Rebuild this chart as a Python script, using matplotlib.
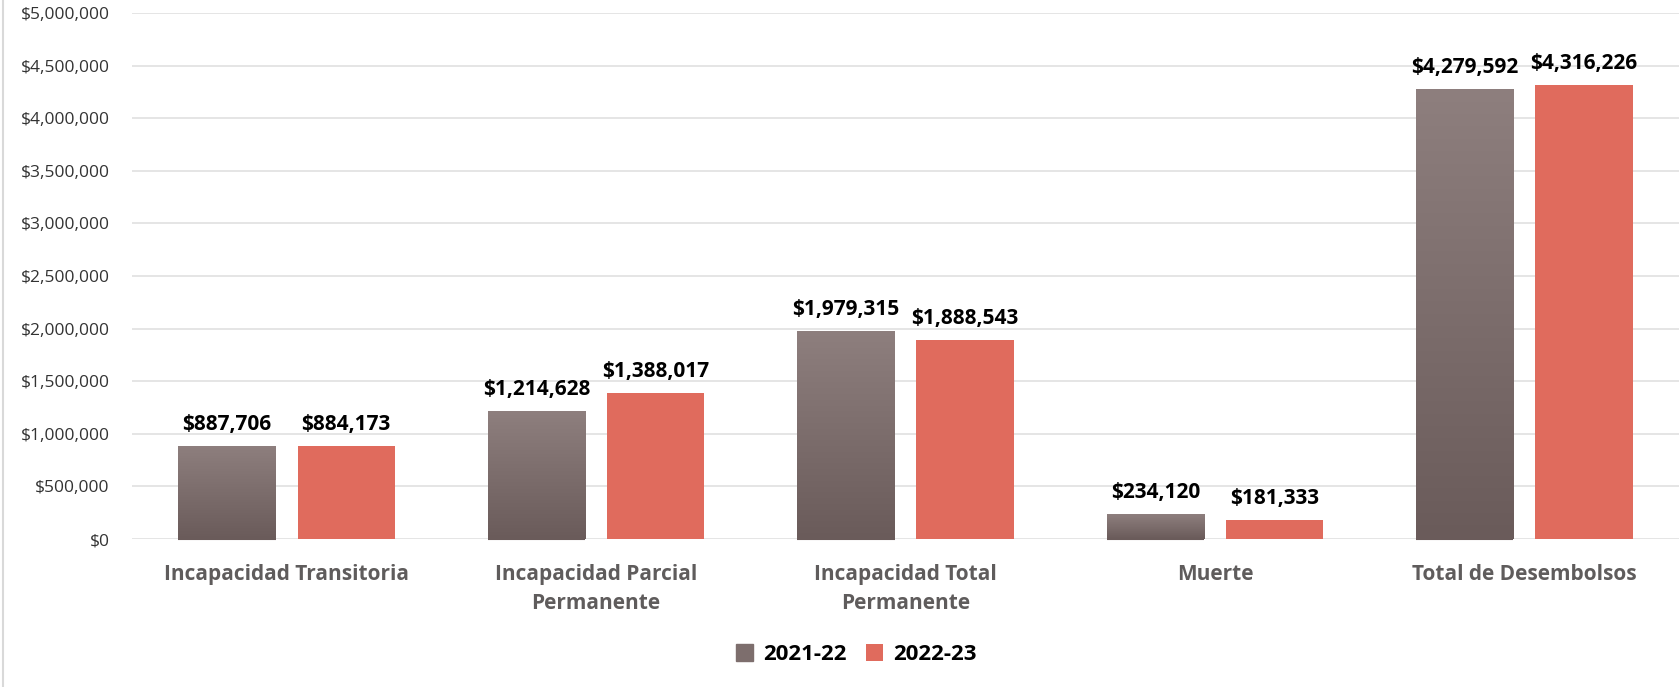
import numpy as np
import matplotlib.pyplot as plt
from matplotlib.colors import LinearSegmentedColormap
from matplotlib.ticker import FuncFormatter

# Datos
categorias = ['Incapacidad Transitoria', 'Incapacidad Parcial\nPermanente',
              'Incapacidad Total\nPermanente', 'Muerte', 'Total de Desembolsos']
serie_2021 = [887706, 1214628, 1979315, 234120, 4279592]
serie_2022 = [884173, 1388017, 1888543, 181333, 4316226]
etiquetas = ['2021-22', '2022-23']

plt.rcParams['font.family'] = ['Open Sans', 'DejaVu Sans']

fig = plt.figure(figsize=(16.79, 6.87), dpi=100)
ax = fig.add_axes([0.0786, 0.2154, 0.9214, 0.7656])

x = np.arange(len(categorias))
ancho = 0.315
desp = ancho / 2 + 0.035

gris_arriba = '#8e7f7e'
gris_abajo = '#6a5b5a'
rojo = '#e06b5d'

b1 = ax.bar(x - desp, serie_2021, ancho, color=gris_arriba, label=etiquetas[0], zorder=2)
b2 = ax.bar(x + desp, serie_2022, ancho, color=rojo, label=etiquetas[1], zorder=2)

# degradado en las barras grises
cmap = LinearSegmentedColormap.from_list('g', [gris_abajo, gris_arriba])
grad = np.linspace(0, 1, 256).reshape(-1, 1)
for r in b1:
    x0, y0 = r.get_x(), r.get_y()
    w, h = r.get_width(), r.get_height()
    im = ax.imshow(grad, cmap=cmap, origin='lower', aspect='auto',
                   extent=[x0, x0 + w, y0, y0 + h], zorder=3)
    im.set_clip_path(r)
    ax.plot([x0, x0 + w], [0, 0], color='#6a5b5a', lw=1.5, zorder=4,
            solid_capstyle='butt', clip_on=False)

for barras, vals in ((b1, serie_2021), (b2, serie_2022)):
    for r, v in zip(barras, vals):
        ax.annotate(f'${v:,.0f}', (r.get_x() + r.get_width() / 2, v),
                    xytext=(0, 8), textcoords='offset points', ha='center', va='bottom',
                    fontsize=15, fontweight='bold', color='black', zorder=5)

ax.set_xlim(-0.5, len(categorias) - 0.5)
ax.set_ylim(0, 5000000)
ax.set_yticks(np.arange(0, 5000001, 500000))
ax.yaxis.set_major_formatter(FuncFormatter(lambda v, p: f'${v:,.0f}'))
ax.set_xticks(x)
ax.set_xticklabels(categorias, fontsize=15, fontweight='bold', color='#5f5c5c',
                   linespacing=1.5)
ax.tick_params(axis='y', length=0, labelsize=12.5, labelcolor='#333333', pad=16)
ax.tick_params(axis='x', length=0, pad=18)
ax.grid(axis='y', color='#e3e3e3', lw=1.3, zorder=0)
ax.set_axisbelow(True)
for s in ax.spines.values():
    s.set_visible(False)

leg = fig.legend(handles=[b1, b2], labels=etiquetas, loc='center',
                 bbox_to_anchor=(0.51, 0.047), ncol=2, frameon=False,
                 prop={'weight': 'bold', 'size': 16}, handlelength=0.75, handleheight=0.75,
                 columnspacing=0.9, handletextpad=0.45)
leg.legend_handles[0].set_color('#7d6e6d')

# borde izquierdo del grafico
fig.add_artist(plt.Line2D([0.002, 0.002], [0, 1], color='#d9d9d9', lw=1.5))

fig.savefig('out.png', dpi=100)
